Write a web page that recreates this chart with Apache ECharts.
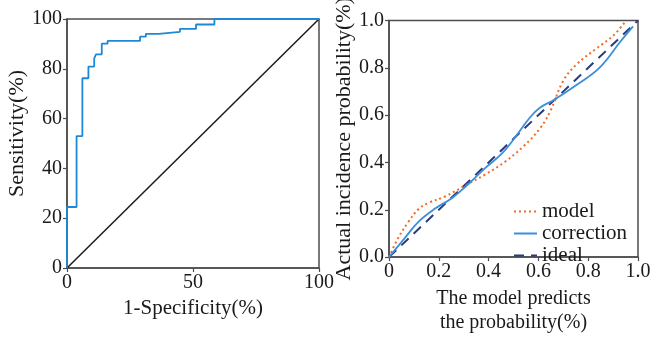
<!DOCTYPE html>
<html>
<head>
<meta charset="utf-8">
<script src="https://cdn.jsdelivr.net/npm/echarts@6/dist/echarts.min.js"></script>
<style>html,body{margin:0;padding:0;background:#fff}#c{width:669px;height:340px}</style>
</head>
<body>
<div id="c"></div>
<script>
// ROC curve corner points (1-specificity %, sensitivity %)
const rocFpr  = [0, 0, 3.8, 3.8, 6.1, 6.1, 8.5, 8.5, 10.8, 10.8, 11.5, 11.5, 13.8, 13.8, 16.1, 16.1, 29, 29, 31.3, 31.3, 36.4, 36.4, 44.8, 44.8, 51.2, 51.2, 58.5, 58.5, 100];
const rocSens = [0, 24.5, 24.5, 53, 53, 76.2, 76.2, 80.9, 80.9, 84.2, 84.2, 85.8, 85.8, 90.1, 90.1, 91.2, 91.2, 92.9, 92.9, 94, 94, 94.8, 94.8, 96, 96, 97.8, 97.8, 100, 100];
const refX = [0, 100];
const refY = [0, 100];
const rocYTicks = ['0', '20', '40', '60', '80', '100'];
const rocXTicks = ['0', '50', '100'];

// Calibration curves
const modelX = [0, 0.037, 0.078, 0.118, 0.158, 0.225, 0.305, 0.386, 0.466, 0.54, 0.606, 0.647, 0.7, 0.754, 0.834, 0.901, 0.945];
const modelY = [0, 0.081, 0.149, 0.202, 0.229, 0.256, 0.302, 0.349, 0.403, 0.468, 0.543, 0.615, 0.745, 0.815, 0.882, 0.936, 0.99];
const corrX = [0, 0.064, 0.118, 0.185, 0.252, 0.319, 0.386, 0.453, 0.5, 0.566, 0.606, 0.667, 0.754, 0.847, 0.928, 0.98];
const corrY = [0, 0.081, 0.149, 0.205, 0.249, 0.309, 0.376, 0.437, 0.497, 0.59, 0.631, 0.667, 0.728, 0.802, 0.909, 0.975];
const idealX = [0, 1];
const idealY = [0, 1];
const seriesNames = ['model', 'correction', 'ideal'];

const zip = (a, b) => a.map((v, i) => [v, b[i]]);
const FONT = 'Liberation Serif';
const TXT = '#1a1a1a';
const AX = '#4d4d4d';

function axisCommon() {
  return {
    axisLine: { show: true, onZero: false, lineStyle: { color: AX, width: 1.5 } },
    axisTick: { show: true, inside: false, length: 4, lineStyle: { color: AX, width: 1.2 } },
    splitLine: { show: false }
  };
}

const option = {
  animation: false,
  backgroundColor: '#fff',
  grid: [
    { left: 67, top: 19, width: 252, height: 249, show: true, borderColor: AX, borderWidth: 1.5 },
    { left: 389, top: 18, width: 249, height: 249, show: true, borderColor: AX, borderWidth: 1.5 }
  ],
  xAxis: [
    Object.assign(axisCommon(), {
      gridIndex: 0, type: 'value', min: 0, max: 100, interval: 50,
      name: '1-Specificity(%)', nameLocation: 'middle', nameGap: 26,
      nameTextStyle: { color: TXT, fontFamily: FONT, fontSize: 21 },
      axisLabel: { color: TXT, fontFamily: FONT, fontSize: 20, margin: 5,
        formatter: (v) => rocXTicks[Math.round(v / 50)] }
    }),
    Object.assign(axisCommon(), {
      gridIndex: 1, type: 'value', min: 0, max: 1, interval: 0.2,
      name: 'The model predicts\nthe probability(%)', nameLocation: 'middle', nameGap: 25,
      nameTextStyle: { color: TXT, fontFamily: FONT, fontSize: 20, lineHeight: 24, verticalAlign: 'top' },
      axisLabel: { color: TXT, fontFamily: FONT, fontSize: 20, margin: 5,
        formatter: (v) => v === 0 ? '0' : v.toFixed(1) }
    })
  ],
  yAxis: [
    Object.assign(axisCommon(), {
      gridIndex: 0, type: 'value', min: 0, max: 100, interval: 20,
      name: 'Sensitivity(%)', nameLocation: 'middle', nameGap: 34,
      nameTextStyle: { color: TXT, fontFamily: FONT, fontSize: 22, padding: [0, 0, 0, 20] },
      axisLabel: { color: TXT, fontFamily: FONT, fontSize: 20, margin: 5,
        formatter: (v) => rocYTicks[Math.round(v / 20)] }
    }),
    Object.assign(axisCommon(), {
      gridIndex: 1, type: 'value', min: 0, max: 1, interval: 0.2,
      name: 'Actual incidence probability(%)', nameLocation: 'middle', nameGap: 32,
      nameTextStyle: { color: TXT, fontFamily: FONT, fontSize: 22 },
      axisLabel: { color: TXT, fontFamily: FONT, fontSize: 20, margin: 5,
        formatter: (v) => v.toFixed(1) }
    })
  ],
  legend: {
    data: seriesNames,
    orient: 'vertical',
    left: 508, top: 196,
    itemWidth: 23, itemHeight: 10, itemGap: 1,
    itemStyle: { opacity: 0 },
    textStyle: { color: TXT, fontFamily: FONT, fontSize: 21 }
  },
  series: [
    { type: 'line', xAxisIndex: 0, yAxisIndex: 0, data: zip(refX, refY), symbol: 'none',
      lineStyle: { color: '#1a1a1a', width: 1.5 }, silent: true, z: 2 },
    { type: 'line', xAxisIndex: 0, yAxisIndex: 0, data: zip(rocFpr, rocSens), symbol: 'none',
      lineStyle: { color: '#1f88d6', width: 1.8 }, z: 3 },
    { name: seriesNames[0], type: 'line', xAxisIndex: 1, yAxisIndex: 1, data: zip(modelX, modelY),
      symbol: 'none', smooth: 0.4, itemStyle: { color: '#f26b2a' },
      lineStyle: { color: '#f26b2a', width: 2, type: [2, 3] }, z: 3 },
    { name: seriesNames[1], type: 'line', xAxisIndex: 1, yAxisIndex: 1, data: zip(corrX, corrY),
      symbol: 'none', smooth: 0.4, itemStyle: { color: '#3a8fd8' },
      lineStyle: { color: '#3a8fd8', width: 1.8 }, z: 4 },
    { name: seriesNames[2], type: 'line', xAxisIndex: 1, yAxisIndex: 1, data: zip(idealX, idealY),
      symbol: 'none', itemStyle: { color: '#2b3a7e' },
      lineStyle: { color: '#2b3a7e', width: 2, type: [10, 7] }, z: 2 }
  ]
};

const chart = echarts.init(document.getElementById('c'), null, { renderer: 'canvas' });
chart.setOption(option);
</script>
</body>
</html>
